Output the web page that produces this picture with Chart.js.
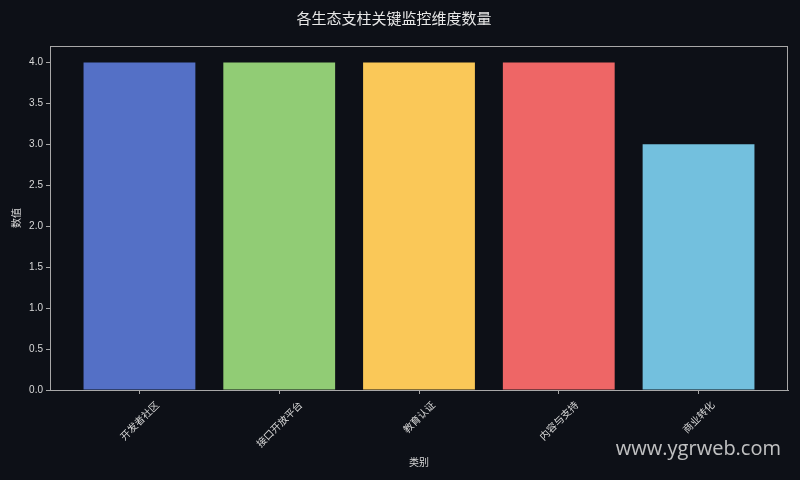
<!DOCTYPE html>
<html>
<head>
<meta charset="utf-8">
<script src="https://cdn.jsdelivr.net/npm/chart.js@4"></script>
<style>
html, body { margin: 0; padding: 0; background: #0d1017; }
#wrap { width: 800px; height: 480px; }
</style>
</head>
<body>
<div id="wrap"><canvas id="myChart" width="800" height="480"></canvas></div>
<script>
// data
var categories = ["开发者社区", "接口开放平台", "教育认证", "内容与支持", "商业转化"];
var counts = [4, 4, 4, 4, 3];
var barColors = ["#5470c6", "#91cc75", "#fac858", "#ee6666", "#73c0de"];
var yTicks = [0, 0.5, 1.0, 1.5, 2.0, 2.5, 3.0, 3.5, 4.0];

var fontFamily = "'Noto Sans CJK SC', 'DejaVu Sans', sans-serif";
var numFont = "'Liberation Sans', 'Noto Sans CJK SC', sans-serif";
var textColor = "#d8d8d8";
var axisColor = "#a8a8a8";

Chart.defaults.font.family = fontFamily;
Chart.defaults.color = textColor;

var points = [];
for (var i = 0; i < counts.length; i++) {
	points.push({ x: i, y: counts[i] });
}

// frame, centred rotated labels and watermark
var extrasPlugin = {
	id: "extras",
	beforeDraw: function(chart) {
		var ctx = chart.ctx;
		ctx.save();
		ctx.fillStyle = "#0d1017";
		ctx.fillRect(0, 0, chart.width, chart.height);
		ctx.restore();
	},
	afterDraw: function(chart) {
		var ctx = chart.ctx;
		var area = chart.chartArea;
		var xScale = chart.scales.x;

		ctx.save();
		ctx.strokeStyle = axisColor;
		ctx.lineWidth = 1;
		ctx.strokeRect(area.left + 0.5, area.top + 0.5, area.right - area.left - 1, area.bottom - area.top);

		ctx.font = "10px " + fontFamily;
		ctx.fillStyle = textColor;
		ctx.textAlign = "center";
		ctx.textBaseline = "middle";
		for (var i = 0; i < categories.length; i++) {
			var w = ctx.measureText(categories[i]).width;
			var half = (w + 11) / (2 * Math.SQRT2);
			var px = xScale.getPixelForValue(i);
			var py = area.bottom + 9 + half;
			ctx.save();
			ctx.translate(px, py);
			ctx.rotate(-Math.PI / 4);
			ctx.fillText(categories[i], 0, 0);
			ctx.restore();
		}

		ctx.font = "20px 'Open Sans', 'DejaVu Sans', sans-serif";
		ctx.fillStyle = "rgba(225,225,225,0.85)";
		ctx.textAlign = "right";
		ctx.textBaseline = "alphabetic";
		ctx.fillText("www.ygrweb.com", 781, 455);
		ctx.restore();
	}
};

var config = {
	type: "bar",
	data: {
		datasets: [{
			label: "数值",
			data: points,
			backgroundColor: barColors,
			borderWidth: 0,
			barPercentage: 0.8,
			categoryPercentage: 1.0
		}]
	},
	options: {
		responsive: false,
		animation: false,
		layout: { padding: { left: 0, right: 12, top: 0, bottom: 0 } },
		plugins: {
			legend: { display: false },
			tooltip: { enabled: false },
			title: {
				display: true,
				text: "各生态支柱关键监控维度数量",
				color: "#e8e8e8",
				font: { size: 15, weight: "normal", family: fontFamily },
				padding: { top: 9, bottom: 19 }
			}
		},
		scales: {
			x: {
				type: "linear",
				min: -0.64,
				max: 4.64,
				offset: false,
				afterBuildTicks: function(scale) {
					scale.ticks = categories.map(function(c, i) { return { value: i }; });
				},
				afterFit: function(scale) { scale.height = 90; },
				grid: { offset: false, drawOnChartArea: false, drawTicks: true, tickLength: 4, tickColor: axisColor },
				border: { display: true, color: axisColor },
				ticks: { color: "rgba(0,0,0,0)", autoSkip: false, maxRotation: 0, minRotation: 0 },
				title: {
					display: true,
					text: "类别",
					color: textColor,
					font: { size: 10, family: fontFamily },
					padding: { top: 0, bottom: 12 }
				}
			},
			y: {
				min: 0,
				max: 4.2,
				afterBuildTicks: function(scale) {
					scale.ticks = yTicks.map(function(v) { return { value: v }; });
				},
				afterFit: function(scale) { scale.width = 50; },
				grid: { drawOnChartArea: false, drawTicks: true, tickLength: 4, tickColor: axisColor },
				border: { display: true, color: axisColor },
				ticks: {
					color: textColor,
					font: { size: 10, family: numFont },
					padding: 3,
					callback: function(v) { return Number(v).toFixed(1); }
				},
				title: {
					display: true,
					text: "数值",
					color: textColor,
					font: { size: 10, family: fontFamily },
					padding: { top: 10, bottom: 0 }
				}
			}
		}
	},
	plugins: [extrasPlugin]
};

var myChart = new Chart(document.getElementById("myChart"), config);
</script>
</body>
</html>
